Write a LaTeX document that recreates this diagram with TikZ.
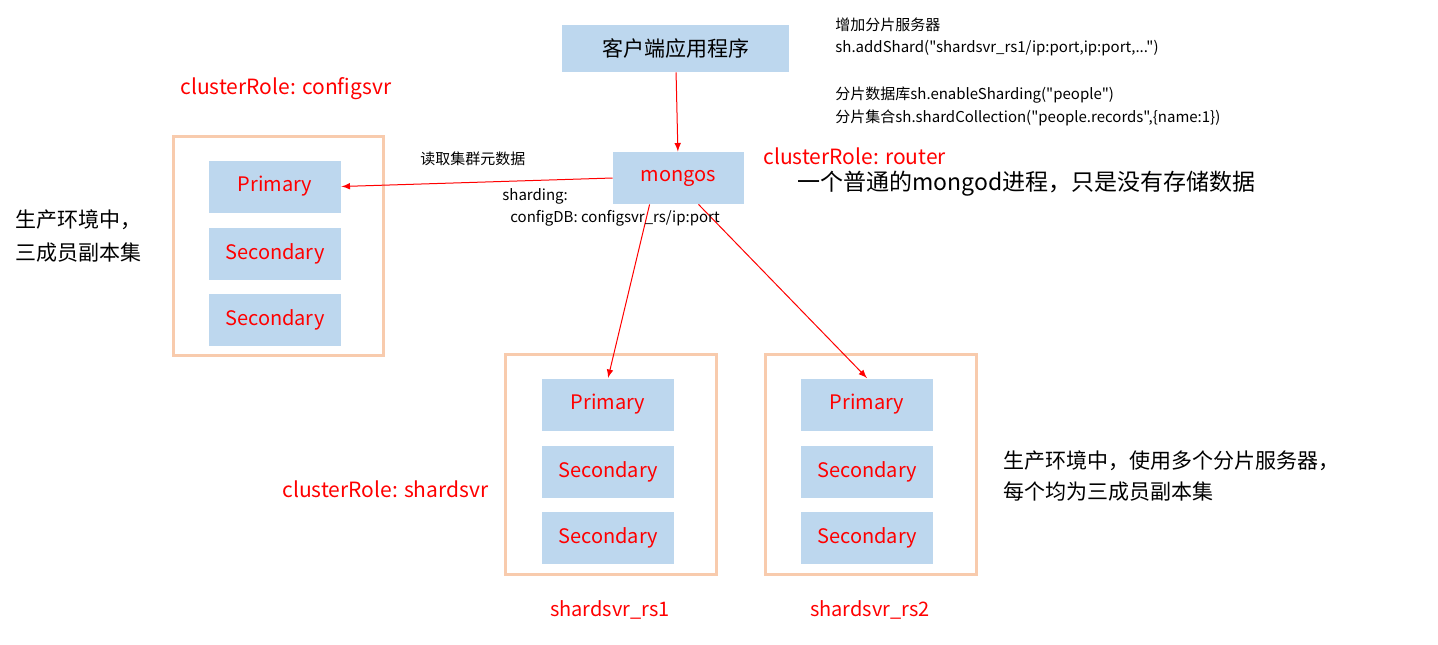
\documentclass[tikz,border=0pt]{standalone}
\usepackage{fontspec}
\setmainfont{Noto Sans CJK SC}[Ligatures=TeXOff]
\begin{document}
\begin{tikzpicture}[x=0.5pt,y=-0.5pt,
  bx/.style={fill=boxblue,draw=none,minimum width=66pt,minimum height=26pt,inner sep=0pt,font=\fontsize{10}{12}\selectfont,text=red},
  frame/.style={draw=framec,line width=1.5pt},
  lbl/.style={anchor=west,inner sep=0pt,font=\fontsize{10.5}{12}\selectfont},
  sm/.style={anchor=west,inner sep=0pt,font=\fontsize{7.5}{9}\selectfont},
  arr/.style={red,->,>=latex,line width=0.5pt}]
\definecolor{boxblue}{HTML}{BDD7EE}
\definecolor{framec}{HTML}{F8CBAD}
\useasboundingbox (0,0) rectangle (1438,644);
\node[bx,minimum width=113.5pt,minimum height=23.5pt,text=black,font=\fontsize{10.5}{12}\selectfont] (client) at (675.5,48.5) {客户端应用程序};
\node[bx,minimum width=65.5pt] (mongos) at (678.5,178) {mongos};
\draw[frame] (173,136) rectangle (383,355);
\draw[frame] (505,354) rectangle (716,574);
\draw[frame] (765,354) rectangle (976,574);
\node[bx] (c1) at (275,186.5) {Primary};
\node[bx] (c2) at (275,254) {Secondary};
\node[bx] (c3) at (275,320) {Secondary};
\node[bx] (a1) at (608,404.5) {Primary};
\node[bx] (a2) at (608,472) {Secondary};
\node[bx] (a3) at (608,538) {Secondary};
\node[bx] (b1) at (867,404.5) {Primary};
\node[bx] (b2) at (867,472) {Secondary};
\node[bx] (b3) at (867,538) {Secondary};
\draw[arr] (client) -- (mongos);
\draw[arr] (mongos.west) -- (c1.east);
\draw[arr] (mongos.south west) ++(37,0) coordinate (m1) -- (a1.north);
\draw[arr] (mongos.south) ++(20,0) coordinate (m2) -- (b1.north);
\node[lbl,text=red] (t1) at (180,89) {clusterRole: configsvr};
\node[lbl,text=red] (t2) at (763,156) {clusterRole: router};
\node[lbl,text=red] (t3) at (282,489) {clusterRole: shardsvr};
\node[font=\fontsize{10}{12}\selectfont,text=red] (t4) at (610,610) {shardsvr\_rs1};
\node[font=\fontsize{10}{12}\selectfont,text=red] (t5) at (870,610) {shardsvr\_rs2};
\node[lbl] (t6) at (15,220) {生产环境中，};
\node[lbl] (t7) at (15,253) {三成员副本集};
\node[lbl] (t8) at (1003,461) {生产环境中，使用多个分片服务器，};
\node[lbl] (t9) at (1003,492) {每个均为三成员副本集};
\node[lbl,font=\fontsize{11.5}{13}\selectfont] (t10) at (797,184) {一个普通的mongod进程，只是没有存储数据};
\node[sm] (s1) at (835,25) {增加分片服务器};
\node[sm] (s2) at (835,48) {sh.addShard("shardsvr\_rs1/ip:port,ip:port,...")};
\node[sm] (s3) at (835,95) {分片数据库sh.enableSharding("people")};
\node[sm] (s4) at (835,118) {分片集合sh.shardCollection("people.records",\{name:1\})};
\node[sm] (s5) at (420,159) {读取集群元数据};
\node[sm] (s6) at (502,196) {sharding:};
\node[sm] (s7) at (510,218) {configDB: configsvr\_rs/ip:port};
\end{tikzpicture}
\end{document}
